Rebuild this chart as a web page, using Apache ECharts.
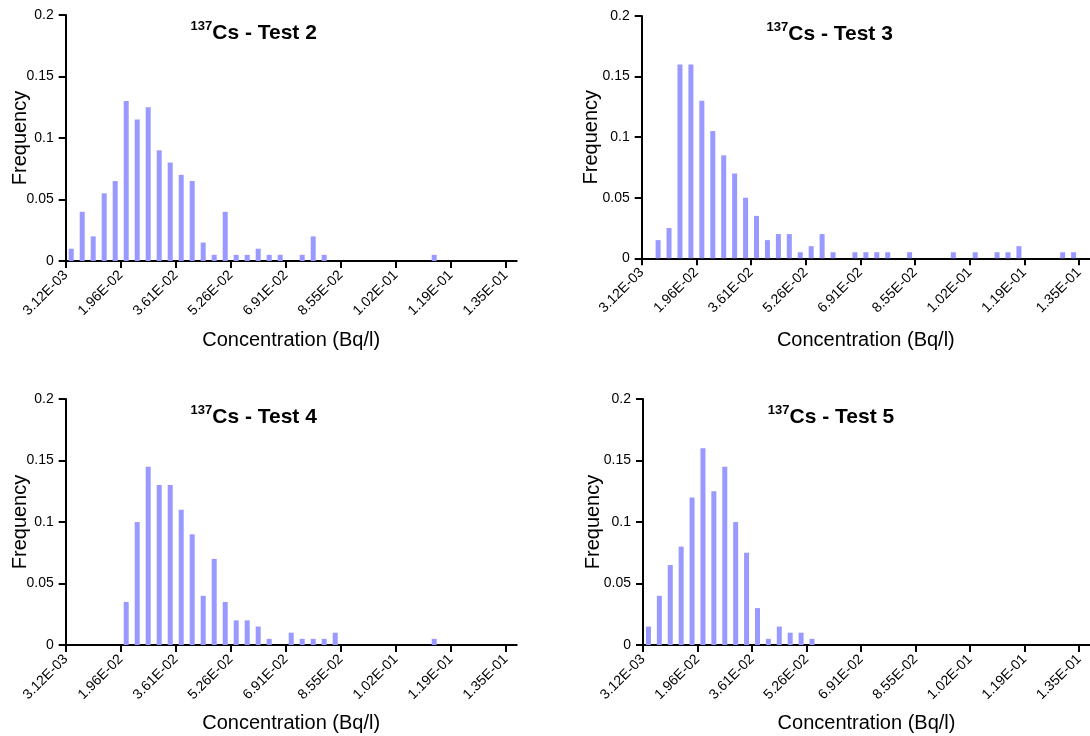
<!DOCTYPE html>
<html>
<head>
<meta charset="utf-8">
<script src="https://cdn.jsdelivr.net/npm/echarts@6/dist/echarts.min.js"></script>
<style>
  html, body { margin: 0; padding: 0; background: #fff; }
  #chart { width: 1090px; height: 736px; }
</style>
</head>
<body>
<div id="chart"></div>
<script>
// 41 bins, lower edge of bin 0 = 3.12E-03, bin width ~3.3E-03
var bins = [];
for (var b = 0; b < 41; b++) bins.push(b);

var tickLabels = ['3.12E-03', '1.96E-02', '3.61E-02', '5.26E-02', '6.91E-02',
                  '8.55E-02', '1.02E-01', '1.19E-01', '1.35E-01'];

var test2 = [0.01, 0.04, 0.02, 0.055, 0.065, 0.13, 0.115, 0.125, 0.09, 0.08,
             0.07, 0.065, 0.015, 0.005, 0.04, 0.005, 0.005, 0.01, 0.005, 0.005,
             0, 0.005, 0.02, 0.005, 0, 0, 0, 0, 0, 0,
             0, 0, 0, 0.005, 0, 0, 0, 0, 0, 0,
             0];
var test3 = [0, 0.015, 0.025, 0.16, 0.16, 0.13, 0.105, 0.085, 0.07, 0.05,
             0.035, 0.015, 0.02, 0.02, 0.005, 0.01, 0.02, 0.005, 0, 0.005,
             0.005, 0.005, 0.005, 0, 0.005, 0, 0, 0, 0.005, 0,
             0.005, 0, 0.005, 0.005, 0.01, 0, 0, 0, 0.005, 0.005,
             0];
var test4 = [0, 0, 0, 0, 0, 0.035, 0.1, 0.145, 0.13, 0.13,
             0.11, 0.09, 0.04, 0.07, 0.035, 0.02, 0.02, 0.015, 0.005, 0,
             0.01, 0.005, 0.005, 0.005, 0.01, 0, 0, 0, 0, 0,
             0, 0, 0, 0.005, 0, 0, 0, 0, 0, 0,
             0];
var test5 = [0.015, 0.04, 0.065, 0.08, 0.12, 0.16, 0.125, 0.145, 0.1, 0.075,
             0.03, 0.005, 0.015, 0.01, 0.01, 0.005, 0, 0, 0, 0,
             0, 0, 0, 0, 0, 0, 0, 0, 0, 0,
             0, 0, 0, 0, 0, 0, 0, 0, 0, 0,
             0];

var FONT = '"Liberation Sans", Arial, sans-serif';
var tickPos = tickLabels.map(function (t, k) { return k * 5; });

// layout of the four panels
var panels = [
    {name: 'Test 2', data: test2, left: 65.7, top: 15, height: 246, width: 451, gapX: 69, gapY: 35},
    {name: 'Test 3', data: test3, left: 641.7, top: 16, height: 242.3, width: 451, gapX: 72, gapY: 40},
    {name: 'Test 4', data: test4, left: 65.7, top: 399, height: 246, width: 451, gapX: 68, gapY: 35},
    {name: 'Test 5', data: test5, left: 643, top: 399, height: 246, width: 451, gapX: 68, gapY: 40}
];

var option = {
    animation: false,
    title: [],
    grid: [],
    xAxis: [],
    yAxis: [],
    series: []
};

panels.forEach(function (p, i) {
    option.title.push({
        text: '{sup|137}{main|Cs - ' + p.name + '}',
        left: p.left + 188,
        top: p.top + 5,
        textAlign: 'center',
        padding: 0,
        textStyle: {
            rich: {
                sup: {fontSize: 13, fontWeight: 'bold', fontFamily: FONT, color: '#000', lineHeight: 12, verticalAlign: 'top'},
                main: {fontSize: 21, fontWeight: 'bold', fontFamily: FONT, color: '#000', lineHeight: 24, verticalAlign: 'bottom'}
            }
        }
    });
    option.grid.push({left: p.left, top: p.top, width: p.width, height: p.height});
    option.xAxis.push({
        gridIndex: i,
        type: 'value',
        min: 0,
        max: 41,
        name: 'Concentration (Bq/l)',
        nameLocation: 'middle',
        nameGap: p.gapX,
        nameTextStyle: {fontSize: 20, color: '#000', fontFamily: FONT},
        axisLine: {show: true, lineStyle: {color: '#000', width: 2}},
        axisTick: {show: true, customValues: tickPos, length: 7, lineStyle: {color: '#000', width: 2}},
        axisLabel: {
            customValues: tickPos,
            rotate: 45,
            margin: 12,
            fontSize: 14,
            color: '#000',
            fontFamily: FONT,
            formatter: function (v) { return tickLabels[Math.round(v / 5)]; }
        },
        splitLine: {show: false}
    });
    option.yAxis.push({
        gridIndex: i,
        type: 'value',
        min: 0,
        max: 0.2,
        interval: 0.05,
        name: 'Frequency',
        nameLocation: 'middle',
        nameGap: p.gapY,
        nameMoveOverlap: false,
        nameTextStyle: {fontSize: 20, color: '#000', fontFamily: FONT},
        axisLine: {show: true, lineStyle: {color: '#000', width: 2}},
        axisTick: {show: true, length: 7, lineStyle: {color: '#000', width: 2}},
        axisLabel: {margin: 12, fontSize: 14, color: '#000', fontFamily: FONT},
        splitLine: {show: false}
    });
    option.series.push({
        type: 'bar',
        xAxisIndex: i,
        yAxisIndex: i,
        barWidth: 5,
        itemStyle: {color: '#9999ff'},
        data: p.data.map(function (v, k) { return [bins[k] + 0.5, v]; })
    });
});

var myChart = echarts.init(document.getElementById('chart'));
myChart.setOption(option);
window.onresize = myChart.resize;
</script>
</body>
</html>
